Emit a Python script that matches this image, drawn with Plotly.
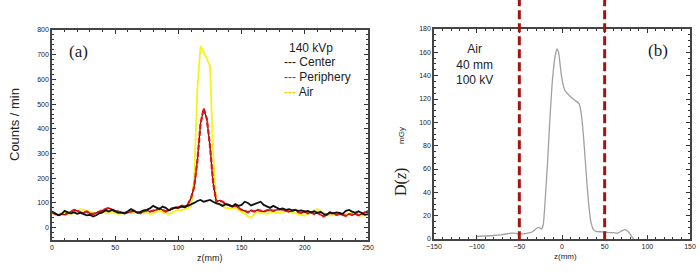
import plotly.graph_objects as go

# ---- Panel (a) data ----
z_a = [i * 2.5 for i in range(101)]
center = [65, 58, 50, 55, 68, 62, 58, 62, 56, 60, 55, 50, 52, 45, 50, 58, 62, 70, 65, 72,
          66, 60, 62, 58, 66, 75, 68, 60, 64, 70, 72, 78, 88, 80, 75, 85, 80, 70, 75, 82,
          80, 85, 82, 88, 92, 100, 108, 112, 105, 110, 112, 105, 98, 95, 88, 95, 92, 85, 95, 88,
          92, 105, 100, 90, 95, 100, 105, 92, 85, 80, 88, 80, 75, 78, 72, 75, 70, 72, 68, 70,
          65, 68, 62, 66, 60, 64, 55, 52, 62, 58, 62, 60, 56, 68, 72, 65, 60, 66, 58, 52, 55]
periphery = [62, 55, 50, 55, 52, 58, 65, 72, 68, 62, 60, 65, 58, 55, 60, 65, 70, 75, 80, 72,
             70, 65, 60, 58, 62, 65, 68, 62, 58, 66, 70, 65, 68, 72, 78, 72, 65, 70, 78, 80,
             82, 90, 85, 95, 120, 165, 270, 420, 482, 440, 330, 180, 105, 110, 105, 95, 92, 85, 90, 80,
             72, 68, 62, 70, 65, 72, 68, 65, 70, 72, 68, 70, 75, 72, 68, 65, 68, 72, 62, 60,
             65, 58, 62, 55, 60, 52, 45, 55, 60, 58, 52, 55, 50, 48, 55, 52, 56, 50, 55, 62, 68]
air = [58, 52, 55, 60, 62, 58, 55, 62, 70, 75, 72, 68, 62, 60, 58, 62, 65, 60, 58, 62,
       60, 55, 58, 65, 62, 58, 60, 64, 62, 58, 60, 55, 58, 65, 70, 62, 58, 55, 60, 68,
       72, 70, 75, 78, 85, 200, 560, 735, 710, 680, 655, 300, 100, 95, 85, 78, 80, 75, 82, 70,
       62, 58, 45, 40, 55, 62, 58, 60, 55, 62, 65, 60, 58, 62, 68, 65, 62, 58, 55, 52,
       48, 55, 60, 70, 75, 65, 58, 52, 48, 55, 60, 58, 55, 52, 58, 60, 55, 52, 48, 50, 52]

# ---- Panel (b) data ----
z_b = [-100, -90, -80, -70, -60, -55, -50, -45, -40, -35, -30, -27, -24, -22, -20, -17, -14,
       -11, -8, -6, -4, -2, 0, 3, 6, 10, 15, 20, 22, 25, 28, 31, 34, 37, 40, 45, 50, 55, 60,
       65, 70, 74, 78, 81, 84]
dose = [2.3, 2.6, 3.0, 3.8, 5.0, 5.0, 4.0, 4.5, 5.0, 6.0, 9.0, 10.0, 8.5, 12, 30, 65, 105,
        138, 157, 163, 160, 148, 137, 128, 125, 122, 119, 116, 110, 90, 60, 32, 14, 8, 6.5, 6.2,
        6.0, 5.5, 5.5, 5.0, 7.0, 8.0, 6.0, 3.0, 0.0]
limits_b = [-50, 50]

fig = go.Figure()

fig.add_trace(go.Scatter(x=z_a, y=air, mode="lines", line=dict(color="#f6f21a", width=1.8),
                         xaxis="x", yaxis="y", showlegend=False))
fig.add_trace(go.Scatter(x=z_a, y=periphery, mode="lines", line=dict(color="#6a0a0a", width=1.2),
                         xaxis="x", yaxis="y", showlegend=False))
fig.add_trace(go.Scatter(x=z_a, y=periphery, mode="lines",
                         line=dict(color="#e01515", width=2.2, dash="5px,2px"),
                         xaxis="x", yaxis="y", showlegend=False))
fig.add_trace(go.Scatter(x=z_a, y=center, mode="lines", line=dict(color="#111111", width=1.8),
                         xaxis="x", yaxis="y", showlegend=False))

fig.add_trace(go.Scatter(x=z_b, y=dose, mode="lines",
                         line=dict(color="#a0a0a0", width=1.3, shape="spline", smoothing=0.5),
                         xaxis="x2", yaxis="y2", showlegend=False))

for zl in limits_b:
    fig.add_shape(type="line", xref="x2", yref="paper", x0=zl, x1=zl, y0=0.12, y1=1.0,
                  line=dict(color="#a31515", width=3, dash="9px,4px"))

tickfont = dict(family="Arial", size=7, color="#222")
common = dict(ticks="inside", ticklen=4, tickwidth=1.2, tickcolor="#333", showline=True,
              linecolor="#444", linewidth=1.5, mirror="ticks", showgrid=False, zeroline=False,
              automargin=False, tickfont=tickfont,
              minor=dict(ticks="inside", ticklen=2, tickcolor="#333"))

fig.update_layout(
    width=700, height=273, margin=dict(l=0, r=0, t=0, b=0, autoexpand=False),
    paper_bgcolor="white", plot_bgcolor="white", showlegend=False,
    xaxis=dict(domain=[0.0743, 0.5257], range=[0, 250], dtick=50, anchor="y", **common),
    yaxis=dict(domain=[0.1209, 0.8901], range=[-50, 800], tick0=0, dtick=100, anchor="x", **common),
    xaxis2=dict(domain=[0.62, 0.9857], range=[-150, 150], dtick=50, anchor="y2", **common),
    yaxis2=dict(domain=[0.1245, 0.8938], range=[0, 180], dtick=20, anchor="x2", **common),
)

ann = [
    dict(text="Counts / min", x=15, y=125, textangle=-90, font=dict(family="Arial", size=13, color="#222")),
    dict(text="z(mm)", x=210, y=258, font=dict(family="Arial", size=9, color="#222")),
    dict(text="z(mm)", x=565, y=256, font=dict(family="Arial", size=8, color="#222")),
    dict(text="(a)", x=78, y=51, font=dict(family="Liberation Serif", size=17, color="#222")),
    dict(text="(b)", x=658, y=50, font=dict(family="Liberation Serif", size=17, color="#222")),
    dict(text="140 kVp", x=311, y=48, font=dict(family="Arial", size=12, color="#222")),
    dict(text="<span style='color:#111'>---</span> Center", x=282, y=62, xanchor="left",
         font=dict(family="Arial", size=12, color="#222")),
    dict(text="<span style='color:#d01010'>---</span> Periphery", x=282, y=77, xanchor="left",
         font=dict(family="Arial", size=12, color="#222")),
    dict(text="<span style='color:#e8c800'>---</span> Air", x=282, y=92, xanchor="left",
         font=dict(family="Arial", size=12, color="#222")),
    dict(text="Air<br>40 mm<br>100 kV", x=474, y=64, font=dict(family="Arial", size=12, color="#222")),
    dict(text="D(<i>z</i>)", x=401, y=182, textangle=-90, font=dict(family="Liberation Serif", size=16, color="#222")),
    dict(text="mGy", x=401, y=136, textangle=-90, font=dict(family="Arial", size=8, color="#222")),
]
for a in ann:
    x_px = a.pop("x")
    y_px = a.pop("y")
    a.update(xref="paper", yref="paper", x=x_px / 700, y=1 - y_px / 273, showarrow=False)
    a.setdefault("xanchor", "center")
    a.setdefault("yanchor", "middle")
    fig.add_annotation(**a)

fig.write_html("out.html", config={"displayModeBar": False},
               post_script="document.body.style.margin='0';document.body.style.overflow='hidden';")
